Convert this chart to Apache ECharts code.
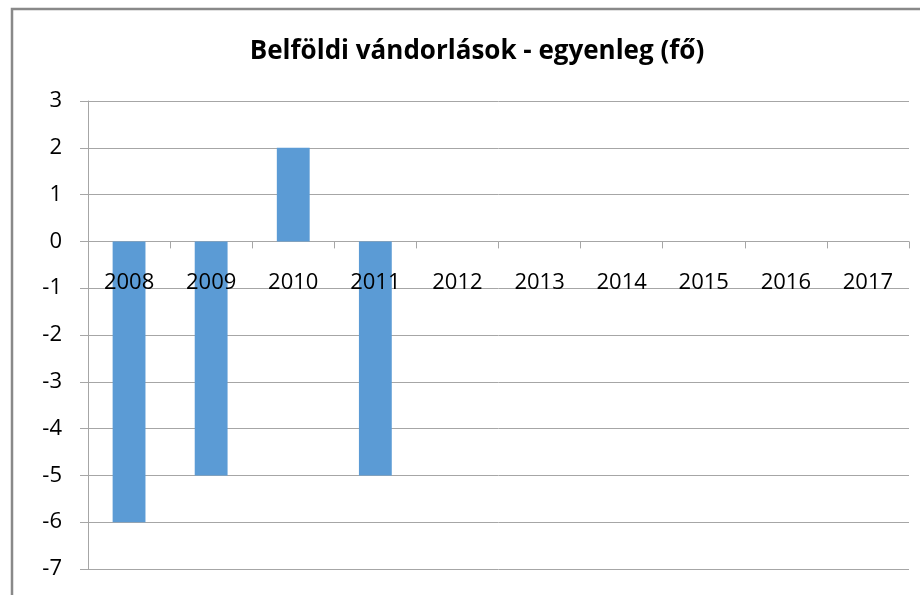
<!DOCTYPE html>
<html>
<head>
<meta charset="utf-8">
<script src="https://cdn.jsdelivr.net/npm/echarts@6/dist/echarts.min.js"></script>
<style>html,body{margin:0;padding:0;background:#fff}#c{width:920px;height:595px}</style>
</head>
<body>
<div id="c"></div>
<script>
const titleText = 'Belföldi vándorlások - egyenleg (fő)';
const categories = ['2008','2009','2010','2011','2012','2013','2014','2015','2016','2017'];
const values = [-6, -5, 2, -5, 0, 0, 0, 0, 0, 0];
const yMin = -7, yMax = 3, yStep = 1;

const GRID = {left: 88, right: 11, top: 101, bottom: 26};
const H = 595 - GRID.top - GRID.bottom;
// labels sit just under the zero line, as in the reference
const labelMargin = 30 - H * (0 - yMin) / (yMax - yMin);

const chart = echarts.init(document.getElementById('c'), null, {renderer: 'canvas'});
const FONT = '"Open Sans", "Liberation Sans", sans-serif';
chart.setOption({
  animation: false,
  backgroundColor: '#ffffff',
  graphic: [
    {type: 'rect', shape: {x: 12, y: 9, width: 1000, height: 1000}, style: {fill: null, stroke: '#898989', lineWidth: 2.5}, silent: true, z: 100},
    {type: 'text', x: 477, y: 52, style: {text: titleText, textAlign: 'center', textVerticalAlign: 'middle', font: 'bold 26px ' + FONT, fill: '#000'}}
  ],
  grid: Object.assign({containLabel: false, outerBoundsMode: 'none'}, GRID),
  xAxis: {
    type: 'category',
    data: categories,
    z: 3,
    axisLine: {show: true, onZero: true, lineStyle: {color: '#a6a6a6', opacity: 0}},
    axisTick: {show: true, length: 7, lineStyle: {color: '#a6a6a6', opacity: 1}},
    axisLabel: {show: true, interval: 0, margin: labelMargin, fontSize: 22, fontFamily: FONT, color: '#000'},
    splitLine: {show: false}
  },
  yAxis: {
    type: 'value',
    min: yMin, max: yMax, interval: yStep,
    axisLine: {show: true, lineStyle: {color: '#a6a6a6'}},
    axisTick: {show: true, length: 8, lineStyle: {color: '#a6a6a6'}},
    axisLabel: {margin: 26, fontSize: 22, fontFamily: FONT, color: '#000'},
    splitLine: {show: true, lineStyle: {color: '#a6a6a6', width: 1}}
  },
  series: [{
    type: 'bar',
    data: values,
    barWidth: '40%',
    itemStyle: {color: '#5b9bd5'}
  }]
});
</script>
</body>
</html>
